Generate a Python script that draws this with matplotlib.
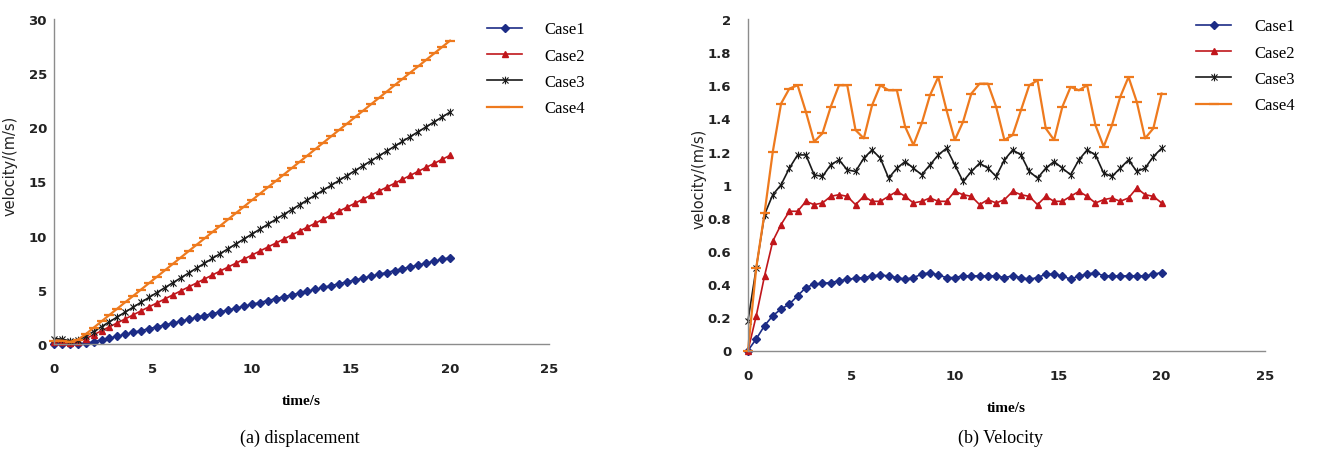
import matplotlib
matplotlib.use("Agg")
import matplotlib.pyplot as plt
from matplotlib.path import Path
from matplotlib.ticker import FixedLocator, FuncFormatter

# ---------------- data ----------------
time = [0.0, 0.4, 0.8, 1.2, 1.6, 2.0, 2.4, 2.8, 3.2, 3.6, 4.0, 4.4, 4.8, 5.2, 5.6,
        6.0, 6.4, 6.8, 7.2, 7.6, 8.0, 8.4, 8.8, 9.2, 9.6, 10.0, 10.4, 10.8, 11.2,
        11.6, 12.0, 12.4, 12.8, 13.2, 13.6, 14.0, 14.4, 14.8, 15.2, 15.6, 16.0,
        16.4, 16.8, 17.2, 17.6, 18.0, 18.4, 18.8, 19.2, 19.6, 20.0]

series_names = ["Case1", "Case2", "Case3", "Case4"]

# (a) displacement
disp_case1 = [0, 0, 0, 0.02, 0.06, 0.20, 0.37, 0.55, 0.72, 0.89, 1.07, 1.24, 1.41,
              1.58, 1.76, 1.93, 2.10, 2.28, 2.45, 2.62, 2.80, 2.97, 3.14, 3.31, 3.49,
              3.66, 3.83, 4.01, 4.18, 4.35, 4.53, 4.70, 4.87, 5.04, 5.22, 5.39, 5.56,
              5.74, 5.91, 6.08, 6.26, 6.43, 6.60, 6.77, 6.95, 7.12, 7.29, 7.47, 7.64,
              7.81, 7.98]
disp_case2 = [0.2, 0.15, 0.05, 0.2, 0.5, 0.85, 1.22, 1.59, 1.95, 2.32, 2.69, 3.06,
              3.43, 3.79, 4.16, 4.53, 4.90, 5.27, 5.63, 6.00, 6.37, 6.74, 7.11, 7.47,
              7.84, 8.21, 8.58, 8.95, 9.31, 9.68, 10.05, 10.42, 10.79, 11.15, 11.52,
              11.89, 12.26, 12.63, 12.99, 13.36, 13.73, 14.10, 14.47, 14.83, 15.20,
              15.57, 15.94, 16.31, 16.67, 17.04, 17.41]
disp_case3 = [0.5, 0.45, 0.3, 0.35, 0.7, 1.15, 1.60, 2.05, 2.50, 2.95, 3.40, 3.85,
              4.30, 4.75, 5.20, 5.65, 6.10, 6.55, 7.00, 7.45, 7.90, 8.35, 8.80, 9.25,
              9.70, 10.15, 10.60, 11.05, 11.50, 11.95, 12.40, 12.85, 13.30, 13.75,
              14.20, 14.65, 15.10, 15.55, 16.00, 16.45, 16.90, 17.35, 17.80, 18.25,
              18.70, 19.15, 19.60, 20.05, 20.50, 20.95, 21.40]
disp_case4 = [0.3, 0.3, 0.2, 0.4, 0.9, 1.50, 2.09, 2.68, 3.27, 3.86, 4.44, 5.03,
              5.62, 6.21, 6.80, 7.39, 7.98, 8.57, 9.16, 9.74, 10.33, 10.92, 11.51,
              12.10, 12.69, 13.28, 13.87, 14.46, 15.04, 15.63, 16.22, 16.81, 17.40,
              17.99, 18.58, 19.17, 19.76, 20.34, 20.93, 21.52, 22.11, 22.70, 23.29,
              23.88, 24.47, 25.06, 25.64, 26.23, 26.82, 27.41, 28.00]

# (b) velocity
vel_case1 = [0, 0.07, 0.15, 0.21, 0.25, 0.28, 0.33, 0.38, 0.40, 0.405, 0.41, 0.42,
             0.43, 0.435, 0.44, 0.45, 0.455, 0.45, 0.44, 0.43, 0.44, 0.46, 0.47,
             0.455, 0.44, 0.44, 0.45, 0.45, 0.45, 0.45, 0.45, 0.44, 0.45, 0.44, 0.43,
             0.44, 0.46, 0.46, 0.45, 0.43, 0.45, 0.46, 0.47, 0.45, 0.45, 0.45, 0.45,
             0.45, 0.45, 0.46, 0.47]
vel_case2 = [0, 0.21, 0.45, 0.66, 0.76, 0.84, 0.84, 0.90, 0.88, 0.89, 0.93, 0.94,
             0.93, 0.88, 0.93, 0.90, 0.90, 0.93, 0.96, 0.93, 0.89, 0.90, 0.92, 0.90,
             0.90, 0.96, 0.94, 0.93, 0.88, 0.91, 0.89, 0.91, 0.96, 0.94, 0.93, 0.88,
             0.93, 0.90, 0.90, 0.93, 0.96, 0.93, 0.89, 0.91, 0.92, 0.90, 0.92, 0.98,
             0.94, 0.93, 0.89]
vel_case3 = [0.18, 0.50, 0.82, 0.94, 1.00, 1.10, 1.18, 1.18, 1.06, 1.05, 1.12, 1.15,
             1.09, 1.08, 1.16, 1.21, 1.16, 1.04, 1.10, 1.14, 1.10, 1.06, 1.12, 1.18,
             1.22, 1.12, 1.02, 1.08, 1.13, 1.10, 1.05, 1.15, 1.21, 1.18, 1.08, 1.04,
             1.10, 1.14, 1.10, 1.06, 1.15, 1.21, 1.18, 1.07, 1.05, 1.10, 1.15, 1.08,
             1.10, 1.17, 1.22]
vel_case4 = [0, 0.50, 0.83, 1.20, 1.49, 1.58, 1.60, 1.44, 1.26, 1.31, 1.47, 1.60,
             1.60, 1.33, 1.28, 1.48, 1.60, 1.57, 1.57, 1.35, 1.24, 1.37, 1.54, 1.65,
             1.45, 1.27, 1.38, 1.55, 1.61, 1.61, 1.47, 1.27, 1.30, 1.45, 1.60, 1.63,
             1.34, 1.27, 1.47, 1.59, 1.57, 1.60, 1.36, 1.23, 1.36, 1.53, 1.65, 1.50,
             1.28, 1.34, 1.55]

disp_ticks_x = [0, 5, 10, 15, 20, 25]
disp_ticks_y = [0, 5, 10, 15, 20, 25, 30]
vel_ticks_x = [0, 5, 10, 15, 20, 25]
vel_ticks_y = [0, 0.2, 0.4, 0.6, 0.8, 1.0, 1.2, 1.4, 1.6, 1.8, 2.0]

# ---------------- styles ----------------
star = Path([(-1, -1), (1, 1), (-1, 1), (1, -1), (0, -1.25), (0, 1.25)],
            [Path.MOVETO, Path.LINETO, Path.MOVETO, Path.LINETO, Path.MOVETO, Path.LINETO])
styles = [
    dict(color="#1C2C86", marker="D", markersize=3.6, lw=1.2),
    dict(color="#C0161B", marker="^", markersize=4.6, lw=1.2),
    dict(color="#1a1a1a", marker=star, markersize=5.5, lw=1.2, markerfacecolor="none",
         markeredgewidth=0.8),
    dict(color="#EE7A1E", marker="_", markersize=6.5, lw=1.6, markeredgewidth=1.6),
]

W, H = 1317, 456
fig = plt.figure(figsize=(W / 100, H / 100), dpi=100)

serif = ["Liberation Serif", "DejaVu Serif"]


def setup(ax, xt, yt, xlim, ylim, ypad):
    ax.set_xlim(*xlim)
    ax.set_ylim(*ylim)
    ax.xaxis.set_major_locator(FixedLocator(xt))
    ax.yaxis.set_major_locator(FixedLocator(yt))
    ax.xaxis.set_major_formatter(FuncFormatter(lambda v, p: "%g" % v))
    ax.yaxis.set_major_formatter(FuncFormatter(lambda v, p: "%g" % v))
    for s in ("top", "right"):
        ax.spines[s].set_visible(False)
    for s in ("left", "bottom"):
        ax.spines[s].set_color("#8c8c8c")
        ax.spines[s].set_linewidth(1.0)
    ax.tick_params(axis="both", length=0)
    ax.tick_params(axis="x", pad=13)
    ax.tick_params(axis="y", pad=ypad)
    for lab in ax.get_xticklabels() + ax.get_yticklabels():
        lab.set_fontfamily("DejaVu Sans")
        lab.set_fontweight("bold")
        lab.set_fontsize(9.5)
        lab.set_color("#222222")
    ax.set_xlabel("time/s", fontfamily=serif, fontweight="bold", fontsize=11, labelpad=14)
    ax.set_ylabel("velocity/(m/s)", fontfamily="DejaVu Sans", fontsize=10.5, color="#222222")
    ax.patch.set_alpha(0)


# (a) displacement
axL = fig.add_axes([54 / W, 1 - 345 / H, (549 - 54) / W, (345 - 20) / H])
disp = [disp_case1, disp_case2, disp_case3, disp_case4]
for name, y, st in zip(series_names, disp, styles):
    axL.plot(time, y, label=name, clip_on=False, **st)
setup(axL, disp_ticks_x, disp_ticks_y, (0, 25), (0, 30), 5)
axL.yaxis.set_label_coords(-36 / (549 - 54), 0.55)
axL.legend(loc="upper left", bbox_to_anchor=(479 / W, 1 - 14 / H),
           bbox_transform=fig.transFigure, frameon=False, borderpad=0,
           prop=dict(family=serif, size=12), handlelength=2.1,
           handletextpad=1.3, labelspacing=0.62)

# (b) velocity
axR = fig.add_axes([748 / W, 1 - 351.5 / H, (1265 - 748) / W, (351.5 - 20) / H])
vel = [vel_case1, vel_case2, vel_case3, vel_case4]
for name, y, st in zip(series_names, vel, styles):
    axR.plot(time, y, label=name, clip_on=False, **st)
setup(axR, vel_ticks_x, vel_ticks_y, (0, 25), (0, 2), 12)
axR.yaxis.set_label_coords(-41 / (1265 - 748), 0.52)
axR.legend(loc="upper left", bbox_to_anchor=(1188 / W, 1 - 11 / H),
           bbox_transform=fig.transFigure, frameon=False, borderpad=0,
           prop=dict(family=serif, size=12), handlelength=2.1,
           handletextpad=1.4, labelspacing=0.62)

fig.text(300 / W, 1 - 438 / H, "(a) displacement", ha="center", va="center",
         fontfamily=serif, fontsize=13)
fig.text(1000 / W, 1 - 438 / H, "(b) Velocity", ha="center", va="center",
         fontfamily=serif, fontsize=13)

fig.savefig("out.png", dpi=100)
